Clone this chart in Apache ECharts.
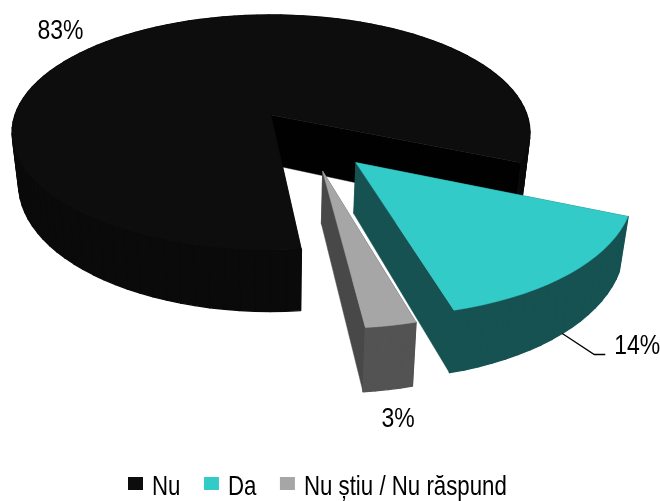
<!DOCTYPE html>
<html>
<head>
<meta charset="utf-8">
<style>html,body{margin:0;padding:0;background:#fff}#c{width:660px;height:501px}</style>
<script src="https://cdn.jsdelivr.net/npm/echarts@6/dist/echarts.min.js"></script>
</head>
<body>
<div id="c"></div>
<script>
const categories = ['Nu', 'Da', 'Nu știu / Nu răspund'];
const values = [83.0, 14.45, 2.55];
const topColors = ['#0d0d0d', '#33cbc8', '#a6a6a6'];
const outerWallColors = ['#0a0a0a', '#165252', '#535353'];
const radialWallColors = ['#010101', '#165252', '#484848'];
const explodeU = [0, 0.312, 0.188];
const explodeV = [0, -0.39, -0.455];
const depthBase = [49.5, 46.2, 47];
const labelOffsets = [[-75, -1], [75, 13], [10, 30]];

const FONT = '"Liberation Sans","Arial",sans-serif';
const FONT_SIZE = 28, LABEL_SCALE = 0.82, LEGEND_SCALE = 0.795;
const CX = 271, RX = 256, PERSP = 0.149, YA = -97.8, YB = 115, DEPTH_SLOPE = 80, BOTTOM_SHRINK = 0.975;
const START_DEG = 113;

function project(i, u, v, lower) {
  const w = 1 + PERSP * v;
  const k = lower ? BOTTOM_SHRINK : 1;
  const x = CX + RX * k * u / w;
  let y = (YA * v + YB) / w;
  if (lower) y += depthBase[i] + (1 - w) * DEPTH_SLOPE;
  return [x, y];
}

const total = values.reduce((a, b) => a + b, 0);
const sliceOrder = [1, 2, 0];
const ranges = {};
let cursor = START_DEG;
sliceOrder.forEach(i => {
  const span = values[i] / total * 360;
  ranges[i] = [cursor, cursor + span];
  cursor += span;
});

function rim(i, lower) {
  const [a, b] = ranges[i];
  const pts = [];
  const n = Math.ceil((b - a) / 3);
  for (let k = 0; k <= n; k++) {
    const t = (a + (b - a) * k / n) * Math.PI / 180;
    pts.push(project(i, explodeU[i] + Math.sin(t), explodeV[i] + Math.cos(t), lower));
  }
  return pts;
}

function renderSlice(i) {
  const topRim = rim(i, false), lowRim = rim(i, true);
  const apexT = project(i, explodeU[i], explodeV[i], false);
  const apexB = project(i, explodeU[i], explodeV[i], true);
  const poly = (points, fill, lw) => ({
    type: 'polygon', shape: { points }, silent: true,
    style: { fill, stroke: fill, lineWidth: lw, lineJoin: 'round' }
  });
  const last = topRim.length - 1;
  const children = [
    poly([apexT, topRim[0], lowRim[0], apexB], radialWallColors[i], 0.5),
    poly([apexT, topRim[last], lowRim[last], apexB], radialWallColors[i], 0.5)
  ];
  for (let k = 0; k < last; k++) {
    children.push(poly([topRim[k], topRim[k + 1], lowRim[k + 1], lowRim[k]], outerWallColors[i], 1.4));
  }
  children.push(poly([apexT].concat(topRim), topColors[i], 0.5));
  return { type: 'group', children };
}

function labelAnchor(i) {
  const [a, b] = ranges[i];
  const t = (a + b) / 2 * Math.PI / 180;
  return project(i, explodeU[i] + Math.sin(t), explodeV[i] + Math.cos(t), i !== 0);
}

function scaledText(text, x, y, scale, align) {
  return {
    type: 'text', silent: true, x, y, scaleX: scale, scaleY: 1,
    style: {
      text, x: 0, y: 0, fill: '#000', fontSize: FONT_SIZE, fontFamily: FONT,
      align, verticalAlign: 'middle'
    }
  };
}

function renderLabels() {
  const children = [];
  values.forEach((val, i) => {
    const p = labelAnchor(i);
    children.push(scaledText(Math.round(val) + '%', p[0] + labelOffsets[i][0], p[1] + labelOffsets[i][1], LABEL_SCALE, 'center'));
  });
  const p = labelAnchor(1);
  children.push({
    type: 'polyline', silent: true,
    shape: { points: [p, [p[0] + 32, p[1] + 21], [p[0] + 43, p[1] + 21]] },
    style: { stroke: '#000', lineWidth: 1.3, fill: 'none' }
  });
  return { type: 'group', children };
}

const measureCtx = document.createElement('canvas').getContext('2d');
measureCtx.font = FONT_SIZE + 'px ' + FONT;

function renderLegend() {
  const children = [];
  let x = 128;
  const top = 477, side = 15, boxH = 13, textGap = 9, itemGap = 23.5, midY = 487;
  categories.forEach((name, i) => {
    children.push({
      type: 'rect', silent: true,
      shape: { x, y: top, width: side, height: boxH },
      style: { fill: topColors[i] }
    });
    const tx = x + side + textGap;
    children.push(scaledText(name, tx, midY, LEGEND_SCALE, 'left'));
    x = tx + measureCtx.measureText(name).width * LEGEND_SCALE + itemGap;
  });
  return { type: 'group', children };
}

const series = categories.map((name, i) => ({
  name, type: 'custom', coordinateSystem: 'none', silent: true,
  z: i === 0 ? 1 : 2,
  itemStyle: { color: topColors[i] },
  data: [values[i]],
  renderItem: () => renderSlice(i)
}));
series.push({
  name: 'labels', type: 'custom', coordinateSystem: 'none', silent: true, z: 5,
  data: [0], renderItem: () => renderLabels()
});
series.push({
  name: 'legend', type: 'custom', coordinateSystem: 'none', silent: true, z: 5,
  data: [0], renderItem: () => renderLegend()
});

const chart = echarts.init(document.getElementById('c'), null, { renderer: 'canvas' });
chart.setOption({ animation: false, backgroundColor: '#fff', series });
</script>
</body>
</html>
